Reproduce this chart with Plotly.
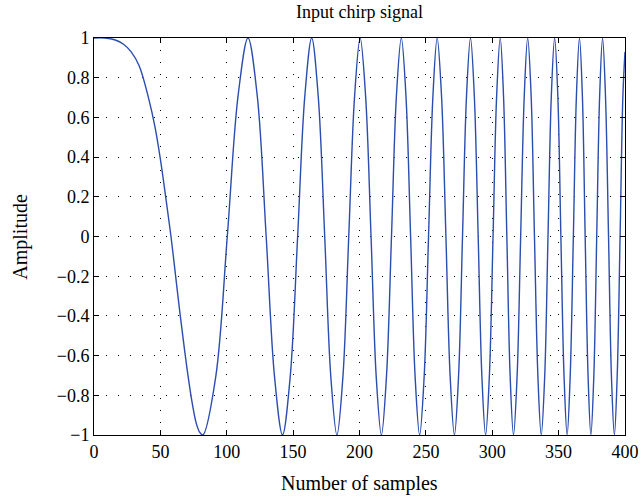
import plotly.graph_objects as go

# Sample positions and amplitudes
sample_n = [
    0, 8, 16, 22, 28, 34, 41, 46, 50, 54, 58, 62, 65, 68, 71, 74, 77, 79.5, 82,
    91.7, 100.4, 108.5, 116,
    123.0, 129.7, 136.0, 142,
    147.8, 153.4, 158.8, 164,
    168.9, 173.8, 178.4, 183,
    187.5, 191.9, 196.3, 200.5,
    204.6, 208.7, 212.6, 216.5,
    220.3, 224.1, 227.8, 231.5,
    235.0, 238.5, 241.9, 245.3,
    248.7, 252.0, 255.3, 258.5,
    261.8, 265.1, 268.3, 271.5,
    274.6, 277.6, 280.6, 283.6,
    286.5, 289.4, 292.2, 295,
    297.8, 300.6, 303.3, 306,
    308.5, 311.0, 313.5, 316,
    318.7, 321.4, 324.1, 326.7,
    329.3, 331.8, 334.4, 336.9,
    339.5, 342.0, 344.5, 347,
    349.4, 351.7, 354.1, 356.4,
    358.7, 361.1, 363.4, 365.7,
    367.9, 370.0, 372.2, 374.3,
    376.5, 378.7, 380.9, 383.1,
    385.3, 387.6, 389.8, 392,
    394.1, 396.3, 398.4, 400,
]
amplitude = [
    1, 1, 0.99, 0.97, 0.93, 0.86, 0.70, 0.55, 0.39, 0.20, 0.0, -0.23, -0.40, -0.56, -0.71, -0.84, -0.94, -0.985, -1,
    -0.707, 0, 0.707, 1,
    0.707, 0, -0.707, -1,
    -0.707, 0, 0.707, 1,
    0.707, 0, -0.707, -1,
    -0.707, 0, 0.707, 1,
    0.707, 0, -0.707, -1,
    -0.707, 0, 0.707, 1,
    0.707, 0, -0.707, -1,
    -0.707, 0, 0.707, 1,
    0.707, 0, -0.707, -1,
    -0.707, 0, 0.707, 1,
    0.707, 0, -0.707, -1,
    -0.707, 0, 0.707, 1,
    0.707, 0, -0.707, -1,
    -0.707, 0, 0.707, 1,
    0.707, 0, -0.707, -1,
    -0.707, 0, 0.707, 1,
    0.707, 0, -0.707, -1,
    -0.707, 0, 0.707, 1,
    0.707, 0, -0.707, -1,
    -0.707, 0, 0.707, 1,
    0.707, 0, -0.707, -1,
    -0.707, 0, 0.707, 0.93,
]

x_ticks = [0, 50, 100, 150, 200, 250, 300, 350, 400]
y_ticks = [-1, -0.8, -0.6, -0.4, -0.2, 0, 0.2, 0.4, 0.6, 0.8, 1]
y_tick_labels = ["\u22121", "\u22120.8", "\u22120.6", "\u22120.4", "\u22120.2", "0",
                 "0.2", "0.4", "0.6", "0.8", "1"]

FONT = "Liberation Serif, Times New Roman, serif"

fig = go.Figure()
fig.add_trace(go.Scatter(
    x=sample_n, y=amplitude, mode="lines",
    line=dict(color="#2B4DAE", width=1.4, shape="spline", smoothing=1.0),
    showlegend=False, hoverinfo="skip",
))

axis_common = dict(
    showline=True, linecolor="black", linewidth=1, mirror="ticks",
    ticks="inside", ticklen=5, tickcolor="black", tickwidth=1,
    showgrid=True, gridcolor="black", gridwidth=1, griddash="1px,11px",
    zeroline=False, automargin=False,
    tickfont=dict(family=FONT, size=18, color="black"),
)

fig.update_layout(
    width=643, height=498,
    margin=dict(l=94, r=18, t=38, b=63),
    paper_bgcolor="white", plot_bgcolor="white",
    title=dict(text="Input chirp signal", x=0.559, xanchor="center",
               y=0.99, yref="container", yanchor="top",
               font=dict(family=FONT, size=18, color="black")),
    xaxis=dict(range=[0, 400], tickvals=x_ticks, ticktext=[str(t) for t in x_ticks],
               **axis_common),
    yaxis=dict(range=[-1, 1], tickvals=y_ticks, ticktext=y_tick_labels,
               **axis_common),
    annotations=[
        dict(text="Number of samples", xref="paper", yref="paper",
             x=0.5, y=-0.122, xanchor="center", yanchor="middle", showarrow=False,
             font=dict(family=FONT, size=20, color="black")),
        dict(text="Amplitude", xref="paper", yref="paper", textangle=-90,
             x=-0.139, y=0.5, xanchor="center", yanchor="middle", showarrow=False,
             font=dict(family=FONT, size=20, color="black")),
    ],
)

fig.write_html("out.html")
